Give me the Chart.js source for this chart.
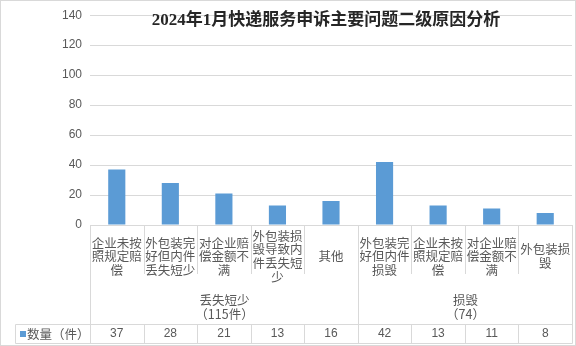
<!DOCTYPE html>
<html>
<head>
<meta charset="utf-8">
<script src="https://cdn.jsdelivr.net/npm/chart.js@4"></script>
<style>
  body { margin: 0; background: #fff; }
  #wrap { width: 576px; height: 346px; }
</style>
</head>
<body>
<div id="wrap"><canvas id="chart" width="576" height="346"></canvas></div>
<script>
const chartTitle = "2024年1月快递服务申诉主要问题二级原因分析";
const categories = [
  "企业未按照规定赔偿",
  "外包装完好但内件丢失短少",
  "对企业赔偿金额不满",
  "外包装损毁导致内件丢失短少",
  "其他",
  "外包装完好但内件损毁",
  "企业未按照规定赔偿",
  "对企业赔偿金额不满",
  "外包装损毁"
];
const counts = [37, 28, 21, 13, 16, 42, 13, 11, 8];
const groupNames = ["丢失短少", "损毁"];
const groupNotes = ["（115件）", "（74）"];
const groupSizes = [5, 4];
const seriesName = "数量（件）";

const barColor = "#5B9BD5";
const lineColor = "#d9d9d9";
const textColor = "#595959";
const cjkFont = "'Noto Sans CJK SC', 'Noto Sans', sans-serif";

// split a label into lines of 4 characters
function wrapLabel(s) {
  const lines = [];
  for (let i = 0; i < s.length; i += 4) lines.push(s.slice(i, i + 4));
  return lines;
}

const tablePlugin = {
  id: "tablePlugin",
  afterDraw(chart) {
    const ctx = chart.ctx;
    const x = chart.scales.x;
    const area = chart.chartArea;
    const n = categories.length;
    const step = x.width / n;
    const edge = (i) => Math.round(x.left + i * step) + 0.5;

    // group boundaries
    const groupEdges = [0];
    groupSizes.forEach((g) => groupEdges.push(groupEdges[groupEdges.length - 1] + g));

    const labelBottom = 274;
    const rowTop = 324.5;
    const rowBottom = 343.5;
    const tableLeft = 15.5;

    ctx.save();
    ctx.strokeStyle = lineColor;
    ctx.lineWidth = 1;
    ctx.beginPath();
    for (let i = 0; i <= n; i++) {
      const px = edge(i);
      const isGroup = groupEdges.includes(i);
      ctx.moveTo(px, area.bottom);
      ctx.lineTo(px, isGroup ? rowBottom : labelBottom);
      if (!isGroup) {
        ctx.moveTo(px, rowTop);
        ctx.lineTo(px, rowBottom);
      }
    }
    ctx.moveTo(tableLeft, rowTop);
    ctx.lineTo(edge(n), rowTop);
    ctx.moveTo(tableLeft, rowBottom);
    ctx.lineTo(edge(n), rowBottom);
    ctx.moveTo(tableLeft, rowTop);
    ctx.lineTo(tableLeft, rowBottom);
    ctx.stroke();

    // outer border
    ctx.strokeRect(0.5, 0.5, chart.width - 1, chart.height - 1);

    // category labels
    ctx.fillStyle = textColor;
    ctx.textAlign = "center";
    ctx.textBaseline = "middle";
    ctx.font = "12.5px " + cjkFont;
    const lh = 13.7;
    categories.forEach((c, i) => {
      const lines = wrapLabel(c);
      const cx = x.getPixelForValue(i);
      const y0 = 256.5 - ((lines.length - 1) * lh) / 2;
      lines.forEach((l, j) => ctx.fillText(l, cx, y0 + j * lh));
    });

    // group labels
    groupNames.forEach((g, k) => {
      const cx = (edge(groupEdges[k]) + edge(groupEdges[k + 1])) / 2;
      ctx.fillText(g, cx, 300);
      ctx.fillText(groupNotes[k], cx, 314);
    });

    // data table row
    const rowMid = (rowTop + rowBottom) / 2;
    ctx.fillStyle = barColor;
    ctx.fillRect(20, rowMid - 3, 6, 6);
    ctx.fillStyle = textColor;
    ctx.textAlign = "left";
    ctx.fillText(seriesName, 27, rowMid);
    ctx.textAlign = "center";
    ctx.font = "12px 'Liberation Sans', sans-serif";
    counts.forEach((v, i) => ctx.fillText(String(v), x.getPixelForValue(i), rowMid));

    // title over the plot
    ctx.fillStyle = "#262626";
    ctx.font = "bold 17px 'Liberation Serif', " + cjkFont;
    ctx.fillText(chartTitle, (area.left + area.right) / 2 - 5, 20.5);
    ctx.restore();
  }
};

new Chart(document.getElementById("chart"), {
  type: "bar",
  data: {
    labels: categories,
    datasets: [
      {
        label: seriesName,
        data: counts,
        backgroundColor: barColor,
        categoryPercentage: 1,
        barPercentage: 0.32
      }
    ]
  },
  options: {
    responsive: false,
    devicePixelRatio: 1,
    animation: false,
    layout: { padding: { left: 0, right: 4, top: 10, bottom: 0 } },
    plugins: {
      legend: { display: false },
      title: { display: false },
      tooltip: { enabled: false }
    },
    scales: {
      x: {
        grid: { display: false },
        border: { display: false },
        ticks: { display: false },
        afterFit(s) { s.height = 121; }
      },
      y: {
        min: 0,
        max: 140,
        ticks: {
          stepSize: 20,
          padding: 8,
          color: textColor,
          font: { family: "'Liberation Sans', sans-serif", size: 12 }
        },
        grid: { color: lineColor, drawTicks: false },
        border: { display: false },
        afterFit(s) { s.width = 90; }
      }
    }
  },
  plugins: [tablePlugin]
});
</script>
</body>
</html>
